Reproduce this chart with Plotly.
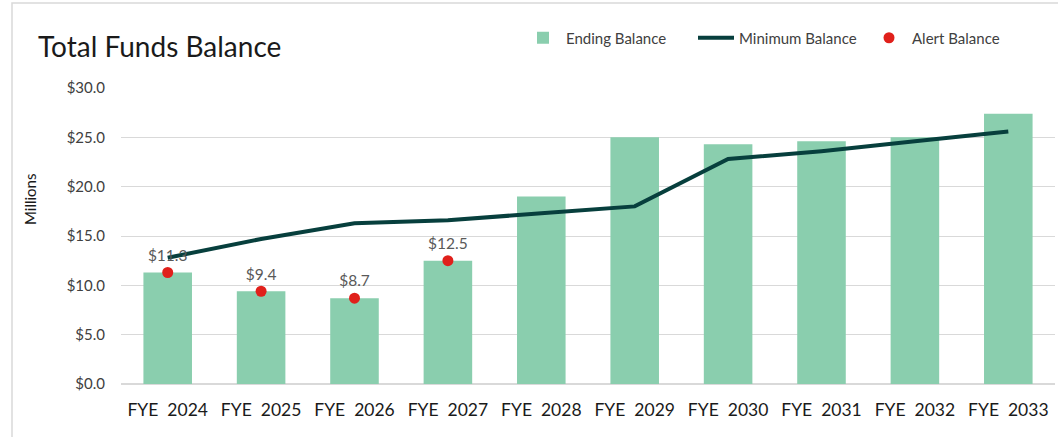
import plotly.graph_objects as go

categories = ["FYE  2024", "FYE  2025", "FYE  2026", "FYE  2027", "FYE  2028",
              "FYE  2029", "FYE  2030", "FYE  2031", "FYE  2032", "FYE  2033"]
ending_balance = [11.3, 9.4, 8.7, 12.5, 19.0, 25.0, 24.3, 24.6, 25.0, 27.4]
minimum_balance = [12.8, 14.7, 16.3, 16.6, 17.3, 18.0, 22.8, 23.6, 24.6, 25.6]
alert_categories = categories[:4]
alert_balance = [11.3, 9.4, 8.7, 12.5]
alert_labels = ["$%.1f" % v for v in alert_balance]
y_ticks = [0, 5, 10, 15, 20, 25, 30]
y_tick_labels = ["$%.1f" % v for v in y_ticks]

FONT = "Lato, 'Open Sans', sans-serif"

fig = go.Figure()
fig.add_trace(go.Bar(
    x=categories, y=ending_balance, name="Ending Balance",
    marker=dict(color="#8ACEAE", line=dict(width=0)),
    width=0.52,
))
fig.add_trace(go.Scatter(
    x=categories, y=minimum_balance, name="Minimum Balance",
    mode="lines", line=dict(color="#073F3D", width=4),
))
fig.add_trace(go.Scatter(
    x=alert_categories, y=alert_balance, name="Alert Balance",
    mode="markers+text", marker=dict(color="#E0201B", size=11),
    text=alert_labels, textposition="top center",
    textfont=dict(color="#595959", size=15.5, family=FONT),
))

W, H = 1058, 437
plot_left, plot_right, plot_top, plot_bottom = 121, 1055, 88, 384
L = plot_left
R = W - plot_right
T = plot_top
B = H - plot_bottom
pw = plot_right - plot_left
ph = plot_bottom - plot_top

def px_x(x):
    return (x - plot_left) / pw

def px_y(y):
    return (plot_bottom - y) / ph

fig.update_layout(
    template="none",
    width=W, height=H,
    margin=dict(l=L, r=R, t=T, b=B, pad=0),
    paper_bgcolor="white", plot_bgcolor="white",
    font=dict(family=FONT, color="#404040"),
    showlegend=True,
    legend=dict(
        orientation="h", x=px_x(520), y=px_y(38), xanchor="left", yanchor="middle",
        font=dict(size=15, color="#404040", family=FONT),
        itemwidth=36, entrywidth=122, entrywidthmode="pixels",
        bgcolor="rgba(0,0,0,0)",
    ),
    title=dict(
        text="Total Funds Balance", x=38 / W, xanchor="left",
        y=1 - 47 / H, yanchor="middle",
        font=dict(size=28, color="#1a1a1a", family=FONT),
    ),
    xaxis=dict(
        showgrid=False, showline=False, ticks="", automargin=False,
        ticklabelstandoff=13,
        tickfont=dict(size=17.5, color="#1a1a1a", family=FONT),
        range=[-0.5, 9.5],
    ),
    yaxis=dict(
        range=[0, 30], tickvals=y_ticks, ticktext=y_tick_labels, automargin=False,
        showgrid=True, gridcolor="#D9D9D9", gridwidth=1,
        zeroline=True, zerolinecolor="#D9D9D9", zerolinewidth=1.5,
        showline=False, ticks="", ticklabelstandoff=15,
        tickfont=dict(size=15, color="#404040", family=FONT),
    ),
    annotations=[dict(
        text="Millions", textangle=-90, xref="paper", yref="paper",
        x=px_x(30), y=px_y(200), xanchor="center", yanchor="middle",
        showarrow=False, font=dict(size=15, color="#1a1a1a", family=FONT),
    )],
    shapes=[dict(
        type="rect", xref="paper", yref="paper",
        x0=px_x(12), x1=px_x(1070), y0=px_y(450), y1=px_y(3),
        line=dict(color="#D9D9D9", width=1.5), fillcolor="rgba(0,0,0,0)",
        layer="below",
    )],
)

fig.write_html("out.html", config={"displayModeBar": False},
               post_script="document.body.style.margin='0';")
